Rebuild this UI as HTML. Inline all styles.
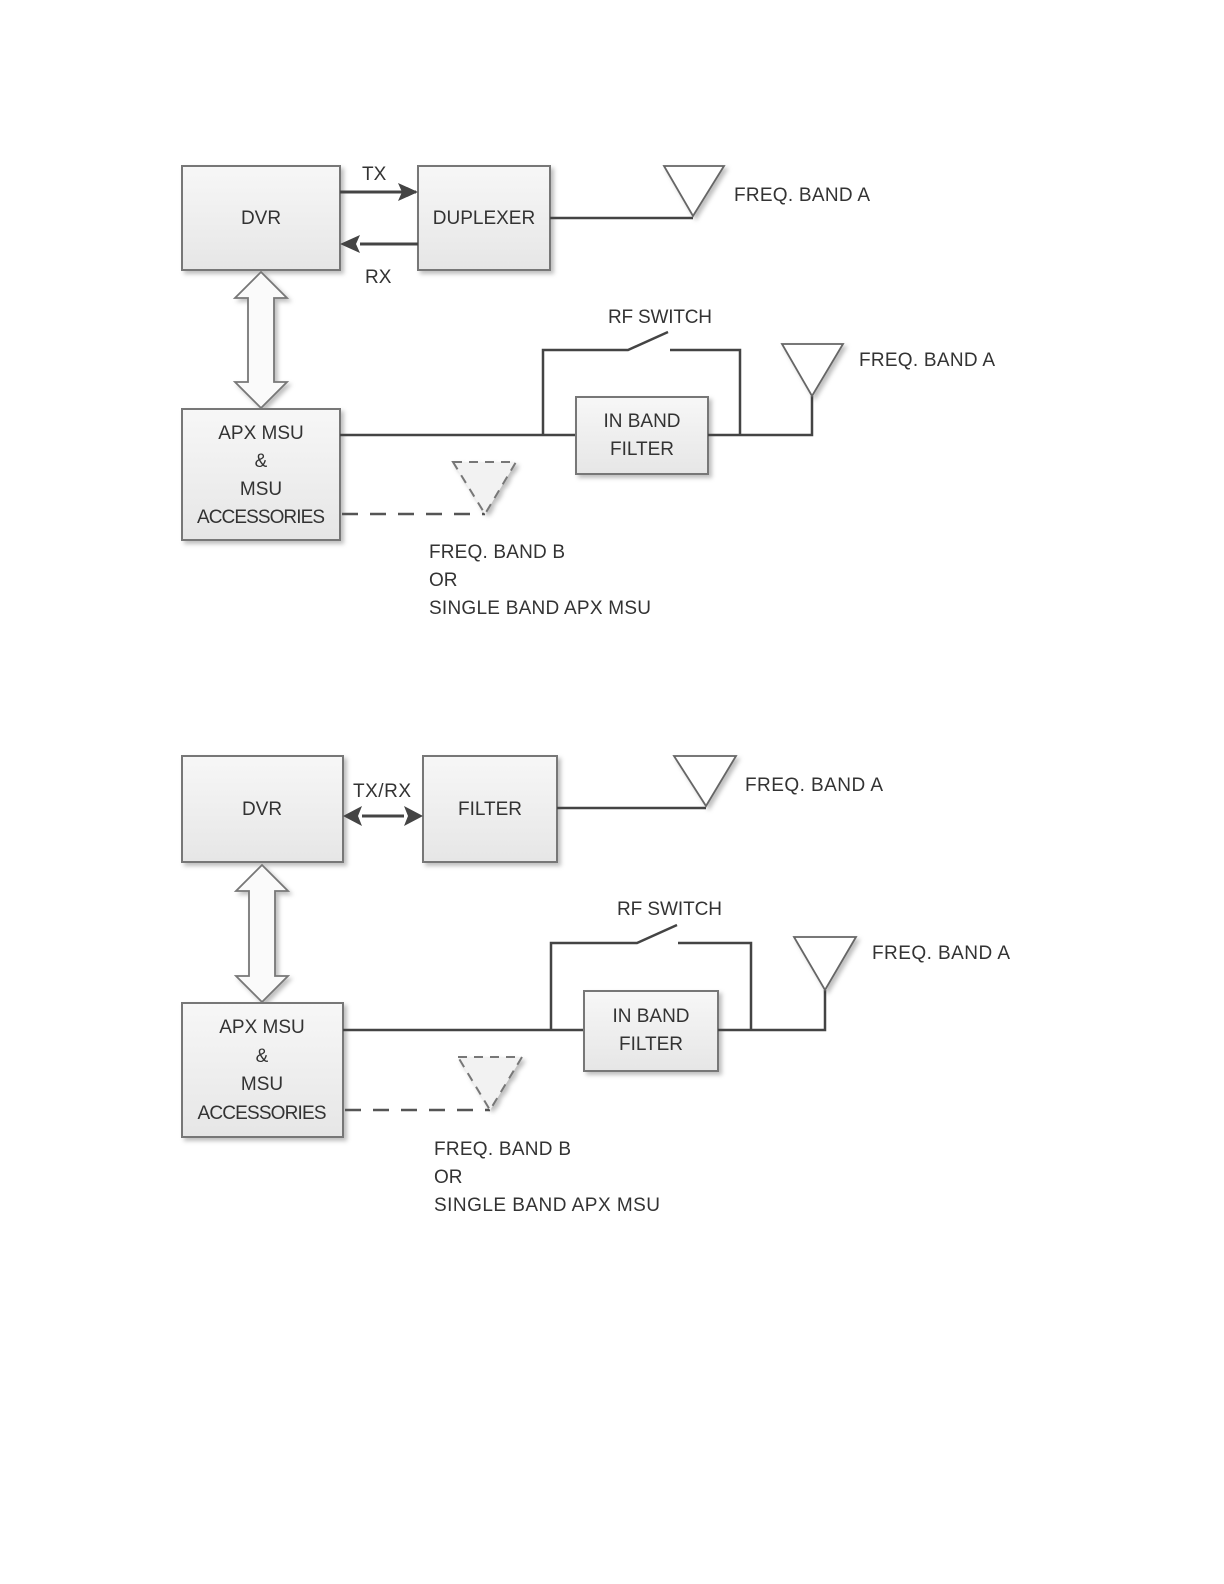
<!DOCTYPE html>
<html><head><meta charset="utf-8"><style>
html,body{margin:0;padding:0;background:#fff}
svg{display:block}
text{font-family:"Liberation Sans",sans-serif;font-size:19px;fill:#333}
.b{fill:url(#g);stroke:#777;stroke-width:2;filter:url(#s)}
.l{stroke:#444;stroke-width:2.5;fill:none}
.t{fill:#fff;stroke:#666;stroke-width:1.8;filter:url(#s)}
.d{fill:#f2f2f2;stroke:#777;stroke-width:2;stroke-dasharray:9,7;filter:url(#s)}
.dl{stroke:#555;stroke-width:2.5;stroke-dasharray:16,12;fill:none}
.ba{fill:#fafafa;stroke:#777;stroke-width:1.8;filter:url(#s)}
</style></head><body>
<svg width="1224" height="1584" viewBox="0 0 1224 1584" xmlns="http://www.w3.org/2000/svg">
<defs>
<linearGradient id="g" x1="0" y1="0" x2="0" y2="1"><stop offset="0" stop-color="#f7f7f7"/><stop offset="1" stop-color="#e6e6e6"/></linearGradient>
<filter id="s" x="-10%" y="-10%" width="130%" height="130%"><feDropShadow dx="3" dy="3" stdDeviation="2" flood-color="#000" flood-opacity="0.25"/></filter>
<marker id="ah" markerWidth="10" markerHeight="10" refX="9" refY="5" orient="auto" markerUnits="userSpaceOnUse" viewBox="0 0 10 10"><path d="M0,0 L10,5 L0,10 L2,5z" fill="#444"/></marker>
</defs>

<!-- TOP DIAGRAM -->
<rect class="b" x="182" y="166" width="158" height="104"/>
<text x="261" y="224" text-anchor="middle">DVR</text>
<rect class="b" x="418" y="166" width="132" height="104"/>
<text x="484" y="224" text-anchor="middle">DUPLEXER</text>
<line x1="340" y1="192" x2="416" y2="192" stroke="#444" stroke-width="3" marker-end="url(#ah)" transform=""/>
<path d="M398,183 L418,192 L398,201 L402,192z" fill="#444"/>
<line x1="360" y1="244" x2="418" y2="244" stroke="#444" stroke-width="3"/>
<path d="M360,235 L340,244 L360,253 L356,244z" fill="#444"/>
<text x="362" y="180">TX</text>
<text x="365" y="283">RX</text>
<line class="l" x1="550" y1="218" x2="693" y2="218"/>
<path class="t" d="M664,166 L724,166 L693,216z"/>
<text x="734" y="201" textLength="136">FREQ. BAND A</text>

<path class="ba" d="M261,272 L287,298 L274,298 L274,382 L287,382 L261,408 L235,382 L248,382 L248,298 L235,298z"/>

<rect class="b" x="182" y="409" width="158" height="131"/>
<text x="261" y="439" text-anchor="middle">APX MSU</text>
<text x="261" y="467" text-anchor="middle">&amp;</text>
<text x="261" y="495" text-anchor="middle">MSU</text>
<text x="261" y="523" text-anchor="middle" textLength="128">ACCESSORIES</text>

<line class="l" x1="340" y1="435" x2="576" y2="435"/>
<rect class="b" x="576" y="397" width="132" height="77"/>
<text x="642" y="427" text-anchor="middle">IN BAND</text>
<text x="642" y="455" text-anchor="middle">FILTER</text>
<polyline class="l" points="708,435 812,435 812,396"/>
<path class="t" d="M782,344 L843,344 L812,396z"/>
<text x="859" y="366" textLength="136">FREQ. BAND A</text>
<polyline class="l" points="543,435 543,350 628,350 668,332"/>
<polyline class="l" points="670,350 740,350 740,435"/>
<text x="608" y="323" textLength="104">RF SWITCH</text>

<line class="dl" x1="342" y1="514" x2="485" y2="514"/>
<path class="d" d="M453,462 L516,462 L485,514z"/>
<text x="429" y="558" textLength="136">FREQ. BAND B</text>
<text x="429" y="586">OR</text>
<text x="429" y="614" textLength="222">SINGLE BAND APX MSU</text>

<!-- BOTTOM DIAGRAM -->
<rect class="b" x="182" y="756" width="161" height="106"/>
<text x="262" y="815" text-anchor="middle">DVR</text>
<rect class="b" x="423" y="756" width="134" height="106"/>
<text x="490" y="815" text-anchor="middle">FILTER</text>
<line x1="362" y1="816" x2="404" y2="816" stroke="#444" stroke-width="3"/>
<path d="M362,806 L343,816 L362,826 L358,816z" fill="#444"/>
<path d="M404,806 L423,816 L404,826 L408,816z" fill="#444"/>
<text x="353" y="797" textLength="58">TX/RX</text>
<line class="l" x1="557" y1="808" x2="706" y2="808"/>
<path class="t" d="M674,756 L736,756 L706,806z"/>
<text x="745" y="791" textLength="138">FREQ. BAND A</text>

<path class="ba" d="M262,865 L288,891 L275,891 L275,976 L288,976 L262,1002 L236,976 L249,976 L249,891 L236,891z"/>

<rect class="b" x="182" y="1003" width="161" height="134"/>
<text x="262" y="1033" text-anchor="middle">APX MSU</text>
<text x="262" y="1062" text-anchor="middle">&amp;</text>
<text x="262" y="1090" text-anchor="middle">MSU</text>
<text x="262" y="1119" text-anchor="middle" textLength="129">ACCESSORIES</text>

<line class="l" x1="343" y1="1030" x2="584" y2="1030"/>
<rect class="b" x="584" y="991" width="134" height="80"/>
<text x="651" y="1022" text-anchor="middle">IN BAND</text>
<text x="651" y="1050" text-anchor="middle">FILTER</text>
<polyline class="l" points="718,1030 825,1030 825,990"/>
<path class="t" d="M794,937 L856,937 L825,990z"/>
<text x="872" y="959" textLength="138">FREQ. BAND A</text>
<polyline class="l" points="551,1030 551,943 637,943 677,925"/>
<polyline class="l" points="678,943 751,943 751,1030"/>
<text x="617" y="915" textLength="105">RF SWITCH</text>

<line class="dl" x1="345" y1="1110" x2="490" y2="1110"/>
<path class="d" d="M458,1057 L522,1057 L490,1110z"/>
<text x="434" y="1155" textLength="137">FREQ. BAND B</text>
<text x="434" y="1183">OR</text>
<text x="434" y="1211" textLength="226">SINGLE BAND APX MSU</text>
</svg>
</body></html>
